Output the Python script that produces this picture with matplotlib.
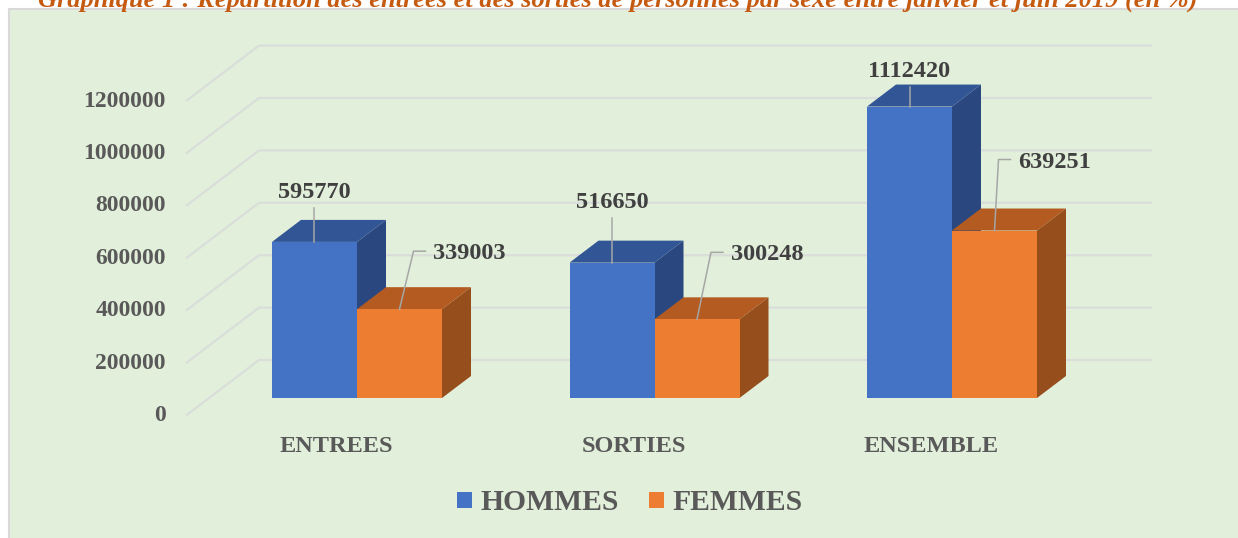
import matplotlib
matplotlib.use('Agg')
import matplotlib.pyplot as plt
from matplotlib.patches import Polygon, Rectangle

plt.rcParams['font.family'] = ['Liberation Serif', 'DejaVu Serif']

title = 'Graphique 1 : Répartition des entrées et des sorties de personnes par sexe entre janvier et juin 2019 (en %)'
categories = ['ENTREES', 'SORTIES', 'ENSEMBLE']
hommes = [595770, 516650, 1112420]
femmes = [339003, 300248, 639251]
y_ticks = [0, 200000, 400000, 600000, 800000, 1000000, 1200000]

W, H = 1238, 538
PX_X = 297.5          # pixels per category
PX_Y = 262e-6         # pixels per person
BAR = 85 / PX_X
DX = 29 / PX_X        # depth of a bar
DY = 22 / PX_Y

fig = plt.figure(figsize=(W / 100, H / 100), dpi=100, facecolor='white')
fig.add_artist(Rectangle((9 / W, -0.01), 1.01, 1 - 9 / H + 0.01, transform=fig.transFigure,
                         facecolor='#E2EFDA', edgecolor='#D9D9D9', linewidth=1.5, zorder=-5))

ax = fig.add_axes([0, 0, 1, 1])
ax.patch.set_visible(False)
ax.axis('off')
ax.set_xlim(-357 / PX_X, (W - 357) / PX_X)
ax.set_ylim((398 - H) / PX_Y, 398 / PX_Y)


def dx(px):
    return px / PX_X


def dy(px):
    return px / PX_Y


# walls
for v in y_ticks:
    xs = [dx(186 - 357), dx(259 - 357), dx(1152 - 357)]
    ys = [v + dy(-17.5), v + dy(38), v + dy(38)]
    ax.plot(xs, ys, color='#DADEDA', lw=1.6, zorder=1, solid_capstyle='butt')
    ax.annotate(f'{v}', (xs[0], ys[0]), xytext=(-20, 0), textcoords='offset pixels',
                ha='right', va='center', fontsize=17, fontweight='bold', color='#595959')


def box(x0, v, front, top, side, z):
    x1 = x0 + BAR
    ax.add_patch(Polygon([(x1, 0), (x1 + DX, DY), (x1 + DX, v + DY), (x1, v)], facecolor=side, edgecolor='none', zorder=z))
    ax.add_patch(Polygon([(x0, v), (x0 + DX, v + DY), (x1 + DX, v + DY), (x1, v)], facecolor=top, edgecolor='none', zorder=z))
    ax.add_patch(Rectangle((x0, 0), BAR, v, facecolor=front, edgecolor='none', zorder=z))


for i in range(3):
    box(i - BAR, hommes[i], '#4472C4', '#325695', '#2A4780', 2 + i * 2)
    box(i, femmes[i], '#ED7D31', '#B35B20', '#964E1C', 3 + i * 2)

    # leader and value of HOMMES: straight up from the top of the bar
    xc = i - BAR / 2
    rise = [34, 45, 20][i]
    ax.plot([xc, xc], [hommes[i], hommes[i] + dy(rise)], color='#A6A6A6', lw=1.1, zorder=10)
    ax.text(xc, hommes[i] + dy(rise + 15.5), f'{hommes[i]}', ha='center', va='center',
            fontsize=17.5, fontweight='bold', color='#404040', zorder=11)

    # leader and value of FEMMES: elbow to the right
    xc = i + BAR / 2
    rise = [58, 67, 71][i]
    lean = [14, 14, 4][i]
    ax.plot([xc, xc + dx(lean), xc + dx(lean + 12)],
            [femmes[i], femmes[i] + dy(rise), femmes[i] + dy(rise)],
            color='#A6A6A6', lw=1.1, zorder=10)
    ax.text(xc + dx(lean + 20), femmes[i] + dy(rise - 2.5), f'{femmes[i]}', ha='left', va='center',
            fontsize=17.5, fontweight='bold', color='#404040', zorder=11)

    ax.text(i - dx(21), dy(-48), categories[i], ha='center', va='center',
            fontsize=17.5, fontweight='bold', color='#595959')

handles = [Rectangle((0, 0), 1, 1, facecolor='#4472C4'), Rectangle((0, 0), 1, 1, facecolor='#ED7D31')]
leg = fig.legend(handles, ['HOMMES', 'FEMMES'], loc='center', bbox_to_anchor=(630 / W, 1 - 503 / H), ncol=2,
                 frameon=False, handlelength=0.5, handleheight=0.5, handletextpad=0.3, columnspacing=1.0,
                 prop={'size': 21.3, 'weight': 'bold'}, labelcolor='#595959')

fig.text(618 / W, 1 - 0 / H, title, ha='center', va='center', fontsize=19, fontweight='bold',
         fontstyle='italic', color='#C55A11')

fig.savefig('out.png', dpi=100)
